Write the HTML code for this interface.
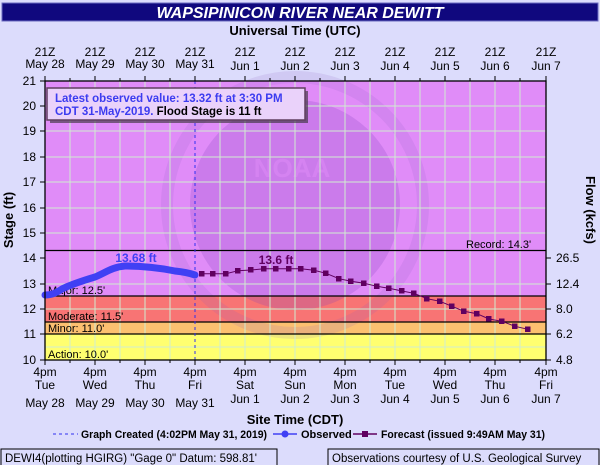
<!DOCTYPE html>
<html><head><style>
body{margin:0;background:#dcdcfc;}
svg{display:block;font-family:"Liberation Sans",sans-serif;}
</style></head><body>
<svg width="600" height="465" viewBox="0 0 600 465">
<rect width="600" height="465" fill="#dcdcfc"/>
<rect x="2" y="3" width="596" height="18" fill="#10087e" stroke="#6a6ac0"/>
<text x="300" y="18" text-anchor="middle" fill="#fff" font-size="16" font-weight="bold" font-style="italic">WAPSIPINICON RIVER NEAR DEWITT</text>
<text x="295" y="35" text-anchor="middle" font-size="13" font-weight="bold">Universal Time (UTC)</text>
<g font-size="12" text-anchor="middle" fill="#000">
<text x="45" y="56">21Z</text><text x="45" y="68">May 28</text>
<text x="95" y="56">21Z</text><text x="95" y="68">May 29</text>
<text x="145" y="56">21Z</text><text x="145" y="68">May 30</text>
<text x="195" y="56">21Z</text><text x="195" y="68">May 31</text>
<text x="245" y="56">21Z</text><text x="245" y="70">Jun 1</text>
<text x="295" y="56">21Z</text><text x="295" y="70">Jun 2</text>
<text x="345" y="56">21Z</text><text x="345" y="70">Jun 3</text>
<text x="395" y="56">21Z</text><text x="395" y="70">Jun 4</text>
<text x="445" y="56">21Z</text><text x="445" y="70">Jun 5</text>
<text x="495" y="56">21Z</text><text x="495" y="70">Jun 6</text>
<text x="546" y="56">21Z</text><text x="546" y="70">Jun 7</text>
</g>
<rect x="45" y="81" width="501" height="215" fill="#e08cf8"/>
<rect x="45" y="296" width="501" height="26" fill="#f87474"/>
<rect x="45" y="322" width="501" height="12" fill="#fcc070"/>
<rect x="45" y="334" width="501" height="26" fill="#ffff70"/>
<circle cx="295" cy="205" r="105" fill="#8040c0" opacity="0.22"/>
<circle cx="295" cy="205" r="128" fill="none" stroke="#9060c0" stroke-width="12" opacity="0.15"/>
<text x="292" y="177" text-anchor="middle" font-size="26" font-weight="bold" fill="#e08cf8" opacity="0.5">NOAA</text>
<g stroke="#d0ecd0" stroke-width="1">
<path d="M70 81V360M95 81V360M120 81V360M145 81V360M170 81V360M220 81V360M245 81V360M270 81V360M295 81V360M320 81V360M345 81V360M370 81V360M395 81V360M420 81V360M445 81V360M470 81V360M495 81V360M520 81V360"/>
<path d="M45 106H546M45 131H546M45 157H546M45 182H546M45 208H546M45 233H546M45 284H546M45 309H546M45 347H546"/>
</g>
<g stroke="#000" stroke-width="1.3">
<path d="M45 250.5H546M45 296H546M45 322H546M45 334H546"/>
</g>
<g font-size="11" fill="#000">
<text x="466" y="248">Record: 14.3'</text>
<text x="48" y="294">Major: 12.5'</text>
<text x="48" y="320">Moderate: 11.5'</text>
<text x="48" y="332">Minor: 11.0'</text>
<text x="48" y="358">Action: 10.0'</text>
</g>
<line x1="195" y1="81" x2="195" y2="360" stroke="#3030f0" stroke-dasharray="3,3"/>
<path d="M45 295 C52 295,56 293,62 289 C72 284,85 280,95 277 C105 273,112 267,125 266 C145 266,160 268,175 271 C185 272,192 274,195 275" fill="none" stroke="#4040f4" stroke-width="7" stroke-linecap="round"/>
<text x="136" y="262" text-anchor="middle" font-size="12" font-weight="bold" fill="#4040f4">13.68 ft</text>
<polyline fill="none" stroke="#600060" stroke-width="1" points="201.7,273.7 213,273.7 226,273.7 238,270.7 251,270 264,268.7 276,268.7 289,268.7 301,268.7 314,270.3 326,273.3 339,278.7 351,281.3 364,283.3 377,286.3 389,288.3 402,291 414,293.3 427,298.7 440,301.3 452,306.3 464,311.3 477,313.7 489,319 502,321.3 515,326.3 528,329.3"/>
<g fill="#600060">
<rect x="199" y="271" width="5.5" height="5.5"/><rect x="210" y="271" width="5.5" height="5.5"/><rect x="223" y="271" width="5.5" height="5.5"/><rect x="235" y="268" width="5.5" height="5.5"/><rect x="248" y="267" width="5.5" height="5.5"/><rect x="261" y="266" width="5.5" height="5.5"/><rect x="273" y="266" width="5.5" height="5.5"/><rect x="286" y="266" width="5.5" height="5.5"/><rect x="298" y="266" width="5.5" height="5.5"/><rect x="311" y="267.5" width="5.5" height="5.5"/><rect x="323" y="270.5" width="5.5" height="5.5"/><rect x="336" y="276" width="5.5" height="5.5"/><rect x="348" y="278.5" width="5.5" height="5.5"/><rect x="361" y="280.5" width="5.5" height="5.5"/><rect x="374" y="283.5" width="5.5" height="5.5"/><rect x="386" y="285.5" width="5.5" height="5.5"/><rect x="399" y="288" width="5.5" height="5.5"/><rect x="411" y="290.5" width="5.5" height="5.5"/><rect x="424" y="296" width="5.5" height="5.5"/><rect x="437" y="298.5" width="5.5" height="5.5"/><rect x="449" y="303.5" width="5.5" height="5.5"/><rect x="461" y="308.5" width="5.5" height="5.5"/><rect x="474" y="311" width="5.5" height="5.5"/><rect x="486" y="316" width="5.5" height="5.5"/><rect x="499" y="318.5" width="5.5" height="5.5"/><rect x="512" y="323.5" width="5.5" height="5.5"/><rect x="525" y="326.5" width="5.5" height="5.5"/>
</g>
<text x="276" y="264" text-anchor="middle" font-size="12" font-weight="bold" fill="#600060">13.6 ft</text>
<rect x="50" y="91" width="258" height="32" fill="#303030" opacity="0.6"/>
<rect x="47" y="88" width="258" height="32" fill="#ead2fa" stroke="#604060" stroke-width="1.5"/>
<text x="55" y="102" font-size="11.5" font-weight="bold" fill="#3c3cf0">Latest observed value: 13.32 ft at 3:30 PM</text>
<text x="55" y="115" font-size="11.5" font-weight="bold" fill="#3c3cf0">CDT 31-May-2019. <tspan fill="#000">Flood Stage is 11 ft</tspan></text>
<rect x="45" y="81" width="501" height="279" fill="none" stroke="#000" stroke-width="1.3"/>
<g stroke="#000">
<path d="M40 81H45M40 106H45M40 131H45M40 157H45M40 182H45M40 208H45M40 233H45M40 258H45M40 284H45M40 309H45M40 334H45M40 360H45"/>
<path d="M546 258H551M546 284H551M546 309H551M546 334H551M546 360H551"/>
<path d="M45 76V81M70 78V81M95 76V81M120 78V81M145 76V81M170 78V81M195 76V81M220 78V81M245 76V81M270 78V81M295 76V81M320 78V81M345 76V81M370 78V81M395 76V81M420 78V81M445 76V81M470 78V81M495 76V81M520 78V81M546 76V81"/>
<path d="M45 360V365M70 360V363M95 360V365M120 360V363M145 360V365M170 360V363M195 360V365M220 360V363M245 360V365M270 360V363M295 360V365M320 360V363M345 360V365M370 360V363M395 360V365M420 360V363M445 360V365M470 360V363M495 360V365M520 360V363M546 360V365"/>
</g>
<g font-size="12" text-anchor="end">
<text x="36" y="85">21</text><text x="36" y="110">20</text><text x="36" y="135">19</text><text x="36" y="161">18</text><text x="36" y="186">17</text><text x="36" y="212">16</text><text x="36" y="237">15</text><text x="36" y="262">14</text><text x="36" y="288">13</text><text x="36" y="313">12</text><text x="36" y="338">11</text><text x="36" y="364">10</text>
</g>
<g font-size="12">
<text x="556" y="262">26.5</text><text x="556" y="288">12.4</text><text x="556" y="313">8.0</text><text x="556" y="338">6.2</text><text x="556" y="364">4.8</text>
</g>
<text transform="translate(13,220) rotate(-90)" text-anchor="middle" font-size="13" font-weight="bold">Stage (ft)</text>
<text transform="translate(586,210) rotate(90)" text-anchor="middle" font-size="13" font-weight="bold">Flow (kcfs)</text>
<g font-size="12" text-anchor="middle">
<text x="45" y="376">4pm</text><text x="45" y="389">Tue</text><text x="45" y="407">May 28</text>
<text x="95" y="376">4pm</text><text x="95" y="389">Wed</text><text x="95" y="407">May 29</text>
<text x="145" y="376">4pm</text><text x="145" y="389">Thu</text><text x="145" y="407">May 30</text>
<text x="195" y="376">4pm</text><text x="195" y="389">Fri</text><text x="195" y="407">May 31</text>
<text x="245" y="376">4pm</text><text x="245" y="389">Sat</text><text x="245" y="403">Jun 1</text>
<text x="295" y="376">4pm</text><text x="295" y="389">Sun</text><text x="295" y="403">Jun 2</text>
<text x="345" y="376">4pm</text><text x="345" y="389">Mon</text><text x="345" y="403">Jun 3</text>
<text x="395" y="376">4pm</text><text x="395" y="389">Tue</text><text x="395" y="403">Jun 4</text>
<text x="445" y="376">4pm</text><text x="445" y="389">Wed</text><text x="445" y="403">Jun 5</text>
<text x="495" y="376">4pm</text><text x="495" y="389">Thu</text><text x="495" y="403">Jun 6</text>
<text x="546" y="376">4pm</text><text x="546" y="389">Fri</text><text x="546" y="403">Jun 7</text>
</g>
<text x="295" y="424" text-anchor="middle" font-size="13" font-weight="bold">Site Time (CDT)</text>
<g font-size="11" font-weight="bold">
<line x1="53" y1="434" x2="78" y2="434" stroke="#3030f0" stroke-dasharray="3,3"/>
<text x="81" y="438" textLength="186" lengthAdjust="spacingAndGlyphs">Graph Created (4:02PM May 31, 2019)</text>
<line x1="273" y1="434" x2="297" y2="434" stroke="#4040f4" stroke-width="1.5"/>
<circle cx="285" cy="434" r="3.5" fill="#4040f4"/>
<text x="301" y="438">Observed</text>
<line x1="353" y1="434" x2="377" y2="434" stroke="#600060" stroke-width="1.5"/>
<rect x="362" y="431" width="6" height="6" fill="#600060"/>
<text x="381" y="438" textLength="164" lengthAdjust="spacingAndGlyphs">Forecast (issued 9:49AM May 31)</text>
</g>
<rect x="1" y="449" width="276" height="17" fill="#dcdcfc" stroke="#000"/>
<text x="5" y="462" font-size="11.5">DEWI4(plotting HGIRG) "Gage 0" Datum: 598.81'</text>
<rect x="328" y="449" width="271" height="17" fill="#dcdcfc" stroke="#000"/>
<text x="332" y="462" font-size="11.5">Observations courtesy of U.S. Geological Survey</text>
</svg>
</body></html>
